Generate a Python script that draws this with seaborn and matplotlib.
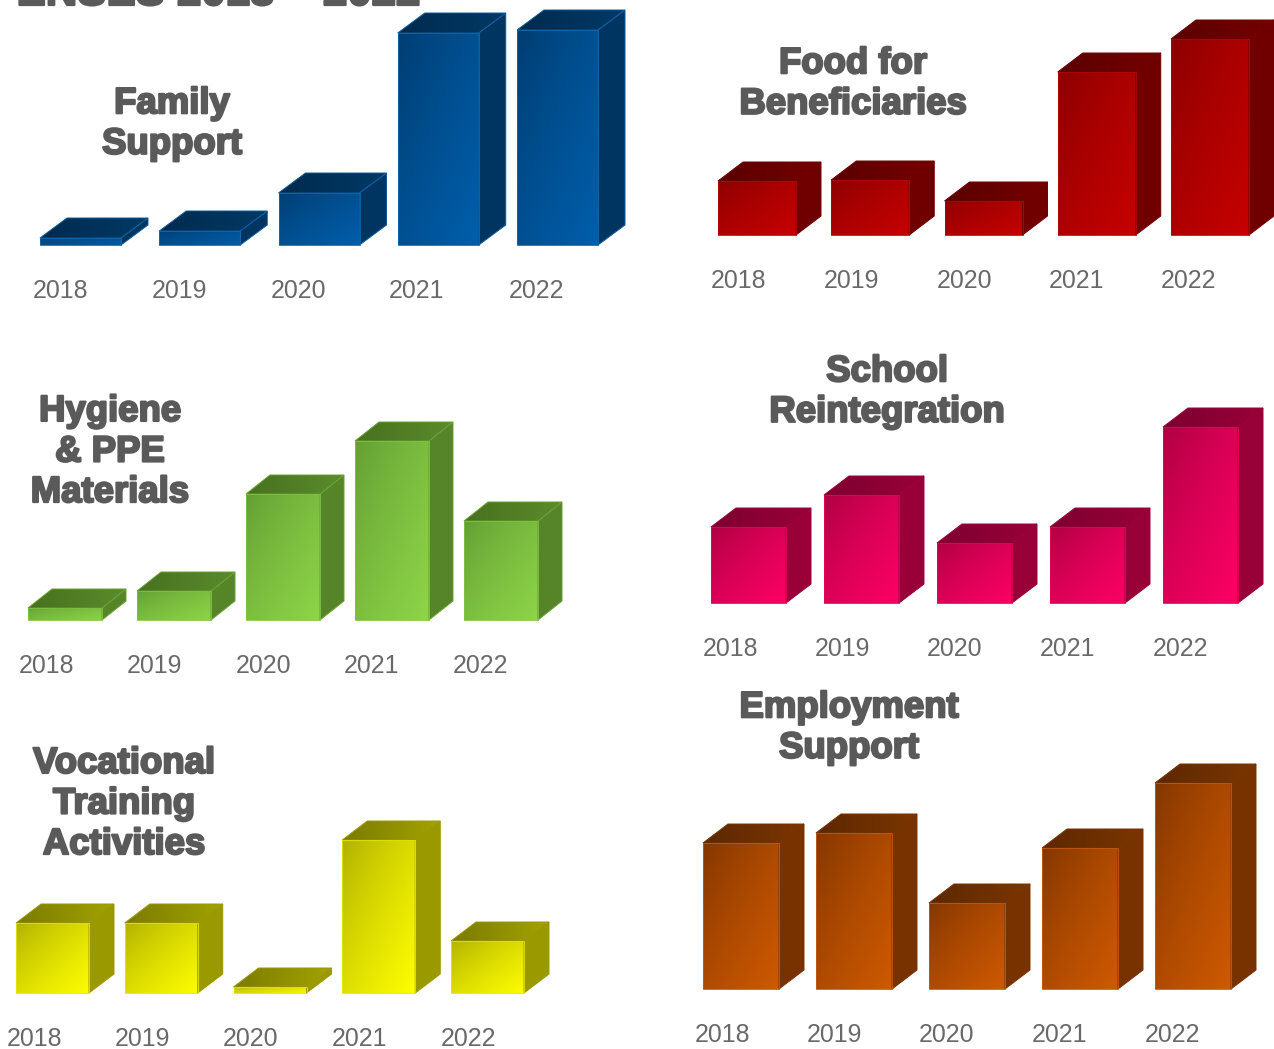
import numpy as np
import pandas as pd
import matplotlib
matplotlib.use("Agg")
import matplotlib.pyplot as plt
import matplotlib.patheffects as pe
from matplotlib.colors import LinearSegmentedColormap
from matplotlib.patches import Polygon
import seaborn as sns

W, H = 1274, 1049
years = ["2018", "2019", "2020", "2021", "2022"]

family_support = [7, 14, 52, 212, 215]
food_for_beneficiaries = [54, 55, 34, 163, 196]
hygiene_ppe = [12, 29, 126, 179, 99]
school_reintegration = [76, 108, 60, 76, 176]
vocational_training = [70, 70, 6, 153, 52]
employment_support = [146, 156, 86, 141, 206]

sup_title = "EXPENSES 2018 \u2013 2022"

panels = [
    dict(title="Family\nSupport", values=family_support, left=40, step=119.25, w=81, d=(27, 20), base=245,
         tick0=60, tstep=119, tx=172, ty=124,
         front=("#003a6c", "#005fac"), top=("#002a4e", "#003a66"), side="#003562", edge="#0d68b0", outline="#0d5c9c"),
    dict(title="Food for\nBeneficiaries", values=food_for_beneficiaries, left=718, step=113.25, w=78, d=(25, 19), base=235,
         tick0=739, tstep=112.5, tx=853, ty=84,
         front=("#870000", "#c80000"), top=("#5a0000", "#760000"), side="#700000", edge="#b00808", outline="#700000"),
    dict(title="Hygiene\n& PPE\nMaterials", values=hygiene_ppe, left=28, step=109, w=74, d=(24, 19), base=620,
         tick0=46, tstep=108.5, tx=110, ty=452,
         front=("#5f9a32", "#8fd648"), top=("#47701f", "#5c8c2c"), side="#568529", edge="#7cc440", outline="#68a035"),
    dict(title="School\nReintegration", values=school_reintegration, left=711, step=113, w=75, d=(25, 19), base=603,
         tick0=730, tstep=112.5, tx=887, ty=392,
         front=("#a8003f", "#ff0066"), top=("#7d0030", "#990038"), side="#990038", edge="#e8005c", outline="#990038"),
    dict(title="Vocational\nTraining\nActivities", values=vocational_training, left=16, step=108.75, w=73, d=(25, 19), base=993,
         tick0=34, tstep=108.5, tx=124, ty=804,
         front=("#aaaa00", "#ffff00"), top=("#7a7a00", "#a4a400"), side="#9a9a00", edge="#e6e600", outline="#9a9a00"),
    dict(title="Employment\nSupport", values=employment_support, left=703, step=113, w=76, d=(25, 19), base=989,
         tick0=722, tstep=112.5, tx=849, ty=728,
         front=("#7d3300", "#d05a00"), top=("#5c2800", "#7c3600"), side="#773200", edge="#c85a10", outline="#773200"),
]

sns.set_theme(style="white", rc={"axes.facecolor": "none", "figure.facecolor": "white"})
plt.rcParams["font.family"] = ["Liberation Sans", "DejaVu Sans"]

fig = plt.figure(figsize=(W / 100, H / 100), dpi=100)
ramp = np.linspace(0, 1, 64)
gx, gy = np.meshgrid(ramp, ramp)
front_field = ((gx + (1 - gy)) / 2) ** 0.75
PAD = 3  # px beyond each face, so the clip edge never meets the image edge
heavy = [pe.withStroke(linewidth=1.6, foreground="#5a5a5a")]

for p in panels:
    dy = p["d"][1]
    axh = max(p["values"]) + dy + 6
    ax = fig.add_axes([(p["left"] + p["w"] / 2 - p["step"] / 2) / W, (H - p["base"]) / H,
                       5 * p["step"] / W, axh / H])
    df = pd.DataFrame({"year": years, "value": p["values"]})
    sns.barplot(data=df, x="year", y="value", ax=ax, color=p["front"][1], width=p["w"] / p["step"],
                saturation=1, errorbar=None, zorder=3)
    ax.set_ylim(0, axh)
    dx = p["d"][0] / p["step"]
    padx = PAD / p["step"]
    cm_front = LinearSegmentedColormap.from_list("f", p["front"])
    cm_top = LinearSegmentedColormap.from_list("t", p["top"])
    for bar in list(ax.patches):
        x0, w, h = bar.get_x(), bar.get_width(), bar.get_height()
        x1 = x0 + w
        ax.add_patch(Polygon([(x1, 0), (x1 + dx, dy), (x1 + dx, h + dy), (x1, h)], closed=True,
                             fc=p["side"], ec=p["outline"], lw=0.7, zorder=2.5, clip_on=False))
        top = Polygon([(x0, h), (x0 + dx, h + dy), (x1 + dx, h + dy), (x1, h)], closed=True,
                      fc="none", ec=p["outline"], lw=0.7, zorder=2.6, clip_on=False)
        ax.add_patch(top)
        im = ax.imshow(gx, extent=(x0 - padx, x1 + dx + padx, h - PAD, h + dy + PAD), origin="lower",
                       cmap=cm_top, vmin=0, vmax=1, aspect="auto", interpolation="bilinear", zorder=2)
        im.set_clip_box(fig.bbox)
        im.set_clip_path(top)
        im2 = ax.imshow(front_field, extent=(x0 - padx, x1 + padx, -PAD, h + PAD), origin="lower",
                        cmap=cm_front, vmin=0, vmax=1, aspect="auto", interpolation="bilinear", zorder=2)
        im2.set_clip_box(fig.bbox)
        im2.set_clip_path(bar)
        bar.set_facecolor("none")
        bar.set_edgecolor(p["edge"])
        bar.set_linewidth(0.6)
        bar.set_clip_on(False)
    ax.set_xlim(-0.5, 4.5)
    ax.set_ylim(0, axh)
    centre0 = p["left"] + p["w"] / 2
    ax.set_xticks([(p["tick0"] + i * p["tstep"] - centre0) / p["step"] for i in range(5)], years)
    ax.tick_params(axis="x", length=0, pad=24.2, labelsize=17.9, labelcolor="#696969")
    ax.set_yticks([])
    ax.set_xlabel("")
    ax.set_ylabel("")
    sns.despine(ax=ax, left=True, bottom=True)
    fig.text(p["tx"] / W, 1 - p["ty"] / H, p["title"], ha="center", va="center", ma="center",
             fontsize=26.3, fontweight="bold", color="#5a5a5a", linespacing=1.205, path_effects=heavy)

fig.text(420 / W, 1 - 5 / H, sup_title, ha="right", va="baseline", fontsize=31.5, fontweight="bold",
         color="#5a5a5a", path_effects=heavy)

fig.savefig("out.png", dpi=100)
